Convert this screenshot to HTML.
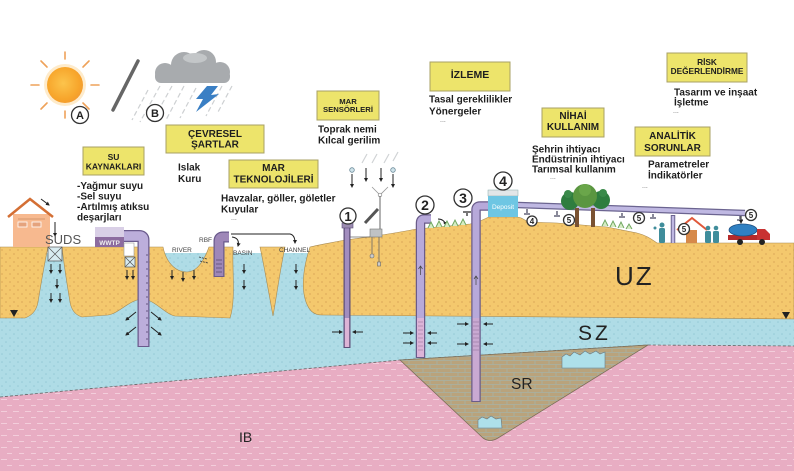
<!DOCTYPE html>
<html><head><meta charset="utf-8"><style>
html,body{margin:0;padding:0;background:#fff;}
svg{display:block;}
text{font-family:"Liberation Sans",Arial,sans-serif;}
.b{font-weight:bold;fill:#1e1e1e;}
.bx{fill:#ede46b;stroke:#a8a066;stroke-width:1;}
.lbl{font-weight:bold;fill:#1e1e1e;text-anchor:middle;}
.dots{fill:#666;font-size:7px;}
.arr{stroke:#222;stroke-width:1;fill:none;}
.cn{fill:#fff;stroke:#333;stroke-width:1.3;}
.ct{font-weight:bold;fill:#222;text-anchor:middle;}
</style></head><body>
<svg width="794" height="471" viewBox="0 0 794 471" xmlns="http://www.w3.org/2000/svg">
<defs>
<pattern id="pUZ" width="8" height="8" patternUnits="userSpaceOnUse"><rect width="8" height="8" fill="#f4c86d"/><circle cx="2" cy="2" r="0.9" fill="#e0ad5c"/><circle cx="6" cy="6" r="0.9" fill="#e0ad5c"/></pattern>
<pattern id="pSZ" width="8" height="8" patternUnits="userSpaceOnUse"><rect width="8" height="8" fill="#afdce6"/><circle cx="2" cy="2" r="0.8" fill="#95c9d5"/><circle cx="6" cy="6" r="0.8" fill="#95c9d5"/></pattern>
<pattern id="pIB" width="12" height="12" patternUnits="userSpaceOnUse"><rect width="12" height="12" fill="#e8adc3"/><rect x="1" y="3" width="6" height="1" fill="#f3cddb"/><rect x="7" y="9" width="6" height="1" fill="#f3cddb"/></pattern>
<pattern id="pSR" width="14" height="8" patternUnits="userSpaceOnUse"><rect width="14" height="8" fill="#b9a37c"/><path d="M0,0.5 H14 M0,4.5 H14 M3,0.5 V4.5 M10,4.5 V8" stroke="#a7b2a5" stroke-width="0.8"/></pattern>
<radialGradient id="sun" cx="0.45" cy="0.45" r="0.6"><stop offset="0" stop-color="#fcc44c"/><stop offset="0.75" stop-color="#f7a52b"/><stop offset="1" stop-color="#f29a30"/></radialGradient>
<marker id="ah" markerWidth="4" markerHeight="4" refX="3" refY="2" orient="auto"><path d="M0,0 L4,2 L0,4 z" fill="#222"/></marker>
</defs>

<!-- layers -->
<rect x="0" y="300" width="794" height="171" fill="url(#pIB)"/>
<path d="M0,253 L794,253 L794,346 L648,345 L400,360 L0,397 Z" fill="url(#pSZ)"/>
<path d="M0,397 L400,360 L648,345 L794,346" fill="none" stroke="#666" stroke-width="0.8" stroke-dasharray="3,2"/>
<path d="M400,360 L648,345 L498,438 Q490,443 483,438 Z" fill="url(#pSR)" stroke="#7a6d58" stroke-width="0.8"/>
<path d="M562,368 L562,357 L566,354 L570,356 L574,352 L580,355 L585,351 L590,354 L596,351 L600,354 L605,352 L605,368 Z" fill="#aee0ea" stroke="#6a7a80" stroke-width="0.6"/>
<path d="M478,428 L478,420 L482,417 L487,419 L491,416 L496,419 L501,418 L502,428 Z" fill="#aee0ea" stroke="#6a7a80" stroke-width="0.6"/>

<!-- UZ pieces -->
<g fill="url(#pUZ)" stroke="#a88a52" stroke-width="0.6">
<path d="M0,247 L48,247 C44,265 40,290 38,302 Q36,314 25,318 L0,318 Z"/>
<path d="M62,247 L163,247 C166,262 175,272 187,272 C198,272 205,258 209,247 L233,247 C232,270 236,300 230,318 L175,316 C165,314 155,300 143,299 C130,299 120,313 108,315 L82,317 Q72,314 70,302 C68,290 64,265 62,247 Z"/>
<path d="M260,247 L285,247 C280,270 276,300 273,316 C270,300 265,270 260,247 Z"/>
<path d="M310,247 C305,262 300,285 306,302 C309,310 313,315 322,315 L794,319 L794,243 L657,243 C650,238 645,235 637,233 L607,227 L557,223 L528,222 C522,218 520,217 516,217 L489,217 C484,219 478,223 470,224 L417,229 C400,232 380,236 345,240 C330,243 318,245 310,247 Z"/>
</g>
<path d="M10,310 L18,310 L14,317 Z" fill="#222"/>
<path d="M782,312 L790,312 L786,319 Z" fill="#222"/>

<!-- layer labels -->
<text x="615" y="285" font-size="26" fill="#222" letter-spacing="2">UZ</text>
<text x="578" y="340" font-size="21" fill="#222" letter-spacing="3">SZ</text>
<text x="511" y="389" font-size="15.5" fill="#222">SR</text>
<text x="239" y="442" font-size="14" fill="#222">IB</text>

<!-- sun -->
<circle cx="65" cy="85" r="21" fill="#fde3b5" opacity="0.7"/>
<circle cx="65" cy="85" r="18" fill="url(#sun)"/>
<g stroke="#eea25a" stroke-width="1.6" stroke-linecap="round">
<line x1="65" y1="59" x2="65" y2="52"/><line x1="65" y1="111" x2="65" y2="118"/>
<line x1="39" y1="85" x2="31" y2="85"/><line x1="91" y1="85" x2="99" y2="85"/>
<line x1="47" y1="67" x2="41" y2="61"/><line x1="83" y1="67" x2="89" y2="61"/>
<line x1="47" y1="103" x2="41" y2="109"/><line x1="83" y1="103" x2="89" y2="109"/>
</g>
<circle class="cn" cx="80" cy="115" r="8.5"/><text class="ct" x="80" y="119" font-size="11">A</text>
<line x1="138" y1="61" x2="113" y2="110" stroke="#666" stroke-width="3.5" stroke-linecap="round"/>

<!-- rain -->
<g stroke="#cdd0d2" stroke-width="1.2" stroke-dasharray="5,3">
<line x1="160" y1="86" x2="140" y2="122"/><line x1="172" y1="86" x2="152" y2="122"/>
<line x1="184" y1="86" x2="166" y2="120"/><line x1="196" y1="88" x2="180" y2="118"/>
<line x1="222" y1="86" x2="206" y2="116"/><line x1="232" y1="86" x2="218" y2="112"/>
<line x1="148" y1="90" x2="132" y2="120"/>
</g>
<!-- cloud -->
<g fill="#a8abae">
<circle cx="165" cy="73" r="10"/><circle cx="184" cy="65" r="13"/><circle cx="204" cy="62" r="12"/><circle cx="220" cy="72" r="10"/>
<rect x="155" y="70" width="75" height="13" rx="6"/>
</g>
<ellipse cx="195" cy="58" rx="12" ry="5" fill="#c3c6c8"/>
<path d="M207,86 L218,86 L211,95 L219,94 L196,112 L203,99 L196,99 Z" fill="#3a7fc4"/>
<circle class="cn" cx="155" cy="113" r="8.5"/><text class="ct" x="155" y="117" font-size="11">B</text>

<!-- label boxes -->
<rect class="bx" x="83" y="147" width="61" height="28"/>
<text class="lbl" x="113.5" y="160" font-size="8.5">SU</text>
<text class="lbl" x="113.5" y="169.5" font-size="8.5">KAYNAKLARI</text>

<rect class="bx" x="166" y="125" width="98" height="28"/>
<text class="lbl" x="215" y="137" font-size="10">ÇEVRESEL</text>
<text class="lbl" x="215" y="147.5" font-size="10">ŞARTLAR</text>

<rect class="bx" x="229" y="160" width="89" height="28"/>
<text class="lbl" x="273.5" y="171" font-size="10">MAR</text>
<text class="lbl" x="273.5" y="182.5" font-size="10">TEKNOLOJİLERİ</text>

<rect class="bx" x="317" y="91" width="62" height="29"/>
<text class="lbl" x="348" y="104" font-size="7.7">MAR</text>
<text class="lbl" x="348" y="112" font-size="7.7">SENSÖRLERİ</text>

<rect class="bx" x="430" y="62" width="80" height="29"/>
<text class="lbl" x="470" y="78" font-size="10.5">İZLEME</text>

<rect class="bx" x="542" y="108" width="62" height="29"/>
<text class="lbl" x="573" y="119" font-size="10">NİHAİ</text>
<text class="lbl" x="573" y="130" font-size="10">KULLANIM</text>

<rect class="bx" x="635" y="127" width="75" height="29"/>
<text class="lbl" x="672.5" y="139" font-size="10">ANALİTİK</text>
<text class="lbl" x="672.5" y="151" font-size="10">SORUNLAR</text>

<rect class="bx" x="667" y="53" width="80" height="29"/>
<text class="lbl" x="707" y="65" font-size="8.3">RİSK</text>
<text class="lbl" x="707" y="74" font-size="8.3">DEĞERLENDİRME</text>

<!-- lists -->
<g class="b" font-size="10">
<text x="77" y="189">-Yağmur suyu</text>
<text x="77" y="199.5">-Sel suyu</text>
<text x="77" y="210">-Artılmış atıksu</text>
<text x="77" y="220.5">deşarjları</text>
<text x="178" y="170.5">Islak</text>
<text x="178" y="182">Kuru</text>
<text x="221" y="201.5">Havzalar, göller, göletler</text>
<text x="221" y="212.5">Kuyular</text>
<text x="318" y="132.5">Toprak nemi</text>
<text x="318" y="143.5">Kılcal gerilim</text>
<text x="429" y="102.5">Tasal gereklilikler</text>
<text x="429" y="114.5">Yönergeler</text>
<text x="532" y="152.5">Şehrin ihtiyacı</text>
<text x="532" y="162.5">Endüstrinin ihtiyacı</text>
<text x="532" y="172.5">Tarımsal kullanım</text>
<text x="648" y="167.5">Parametreler</text>
<text x="648" y="178.5">İndikatörler</text>
<text x="674" y="95.5">Tasarım ve inşaat</text>
<text x="674" y="105.5">İşletme</text>
</g>
<g class="dots">
<text x="231" y="220">...</text><text x="440" y="122">...</text><text x="550" y="179">...</text><text x="642" y="188">...</text><text x="673" y="113">...</text>
</g>

<!-- house -->
<rect x="13" y="214" width="37" height="33" fill="#f7b98f"/>
<polyline points="8,217 30,199 53,217" fill="none" stroke="#d46f34" stroke-width="2.5"/>
<line x1="18" y1="219" x2="45" y2="219" stroke="#c98b63" stroke-width="0.8"/>
<rect x="18" y="222" width="9" height="5" fill="#e5a37d" stroke="#fff" stroke-width="0.8"/>
<rect x="32" y="222" width="9" height="5" fill="#e5a37d" stroke="#fff" stroke-width="0.8"/>
<line x1="41" y1="199" x2="49" y2="205" class="arr" marker-end="url(#ah)"/>
<line x1="55" y1="222" x2="55" y2="236" class="arr" marker-end="url(#ah)"/>
<text x="45" y="244" font-size="13" fill="#555">SUDS</text>
<rect x="48" y="247" width="14" height="14" fill="#d8ecf1" stroke="#555" stroke-width="0.7"/>
<path d="M48,247 L62,261 M62,247 L48,261" stroke="#555" stroke-width="0.7"/>
<g class="arr">
<line x1="51" y1="264" x2="51" y2="273" marker-end="url(#ah)"/><line x1="60" y1="264" x2="60" y2="273" marker-end="url(#ah)"/>
<line x1="57" y1="279" x2="57" y2="288" marker-end="url(#ah)"/>
<line x1="51" y1="293" x2="51" y2="302" marker-end="url(#ah)"/><line x1="60" y1="293" x2="60" y2="302" marker-end="url(#ah)"/>
</g>

<!-- WWTP -->
<rect x="95" y="227" width="29" height="10" fill="#d9cfe6"/>
<rect x="95" y="237" width="29" height="10" fill="#8d6c9f"/>
<text x="109.5" y="245" font-size="6.5" font-weight="bold" fill="#eee" text-anchor="middle">WWTP</text>
<rect x="124" y="243" width="10" height="13" fill="#fff" stroke="#999" stroke-width="0.6"/>
<rect x="125" y="257" width="10" height="10" fill="#d8ecf1" stroke="#555" stroke-width="0.7"/>
<path d="M125,257 L135,267 M135,257 L125,267" stroke="#555" stroke-width="0.7"/>
<g class="arr"><line x1="127" y1="270" x2="127" y2="279" marker-end="url(#ah)"/><line x1="133" y1="270" x2="133" y2="279" marker-end="url(#ah)"/></g>
<path d="M124,236 L139,236 Q143.5,236 143.5,240 L143.5,347" fill="none" stroke="#6a5a8c" stroke-width="12"/>
<path d="M124,236 L139,236 Q143.5,236 143.5,240 L143.5,346" fill="none" stroke="#bcaedb" stroke-width="9.5"/>
<path d="M146,255 h2 M146,262 h2 M146,269 h2 M146,276 h2 M146,283 h2 M146,290 h2 M146,297 h2 M146,304 h2 M146,311 h2 M146,318 h2 M146,325 h2 M146,332 h2 M146,339 h2" stroke="#4a3d66" stroke-width="0.8"/>
<g class="arr">
<line x1="136" y1="312" x2="126" y2="320" marker-end="url(#ah)"/><line x1="136" y1="327" x2="126" y2="335" marker-end="url(#ah)"/>
<line x1="151" y1="312" x2="161" y2="320" marker-end="url(#ah)"/><line x1="151" y1="327" x2="161" y2="335" marker-end="url(#ah)"/>
</g>

<!-- river / RBF / basin / channel -->
<text x="172" y="252" font-size="6.5" fill="#444">RIVER</text>
<text x="199" y="242" font-size="6.5" fill="#444">RBF</text>
<text x="233" y="255" font-size="6.5" fill="#444">BASIN</text>
<text x="279" y="252" font-size="6.5" fill="#444">CHANNEL</text>
<g class="arr">
<line x1="172" y1="270" x2="172" y2="279" marker-end="url(#ah)"/><line x1="183" y1="272" x2="183" y2="281" marker-end="url(#ah)"/><line x1="194" y1="270" x2="194" y2="279" marker-end="url(#ah)"/>
<line x1="244" y1="264" x2="244" y2="273" marker-end="url(#ah)"/><line x1="244" y1="280" x2="244" y2="289" marker-end="url(#ah)"/>
<line x1="296" y1="264" x2="296" y2="273" marker-end="url(#ah)"/><line x1="296" y1="280" x2="296" y2="289" marker-end="url(#ah)"/>
</g>
<path d="M199,257 l8,2 M200,261 l8,2" stroke="#333" stroke-width="0.8" stroke-dasharray="2,1"/>
<path d="M219,277 L219,241 Q219,237 223,237 L229,237" fill="none" stroke="#6a5a8c" stroke-width="11"/>
<path d="M219,276 L219,241 Q219,237 223,237 L229,237" fill="none" stroke="#9e87b8" stroke-width="8.5"/>
<path d="M216,260 h6 M216,264 h6 M216,268 h6 M216,272 h6" stroke="#5a4a70" stroke-width="0.7"/>
<path d="M232,237 Q240,238 238,246" class="arr" marker-end="url(#ah)"/>
<path d="M231,234 L290,234 Q295,235 295,243" class="arr" marker-end="url(#ah)"/>

<!-- MAR sensors (well 1) -->
<g stroke="#d0d3d5" stroke-width="1.2">
<line x1="362" y1="163" x2="367" y2="154"/><line x1="372" y1="163" x2="377" y2="154"/><line x1="384" y1="163" x2="389" y2="154"/><line x1="393" y1="161" x2="398" y2="152"/>
</g>
<circle cx="352" cy="170" r="2.3" fill="#cfe3ea" stroke="#6c8a99" stroke-width="0.8"/>
<circle cx="393" cy="170" r="2.3" fill="#cfe3ea" stroke="#6c8a99" stroke-width="0.8"/>
<g class="arr">
<line x1="352" y1="174" x2="352" y2="187" marker-end="url(#ah)"/><line x1="366" y1="168" x2="366" y2="181" marker-end="url(#ah)"/>
<line x1="381" y1="168" x2="381" y2="181" marker-end="url(#ah)"/><line x1="393" y1="174" x2="393" y2="187" marker-end="url(#ah)"/>
</g>
<path d="M372,187 L380,195 L388,187" fill="none" stroke="#999" stroke-width="0.8"/>
<circle cx="380" cy="195" r="1.8" fill="#fff" stroke="#888" stroke-width="0.7"/>
<line x1="380" y1="196" x2="380" y2="230" stroke="#666" stroke-width="1"/>
<line x1="365" y1="223" x2="378" y2="209" stroke="#555" stroke-width="3"/>
<rect x="370" y="229" width="12" height="8" fill="#bfc2c4" stroke="#777" stroke-width="0.6"/>
<path d="M372,237 V254 M379,237 V262" stroke="#666" stroke-width="0.8"/>
<circle cx="372" cy="256" r="2" fill="#ccc" stroke="#666" stroke-width="0.6"/>
<rect x="377.5" y="262" width="3" height="4" fill="#ccc" stroke="#666" stroke-width="0.6"/>
<line x1="350" y1="237" x2="370" y2="237" stroke="#666" stroke-width="0.8"/>
<line x1="347" y1="228" x2="347" y2="348" stroke="#5d4e78" stroke-width="7"/>
<line x1="347" y1="228" x2="347" y2="318" stroke="#a28dbf" stroke-width="4.5"/>
<line x1="347" y1="318" x2="347" y2="347" stroke="#ddb4d6" stroke-width="4.5"/>
<rect x="342" y="223" width="11" height="5" fill="#9b8bb0" stroke="#5d4e78" stroke-width="0.6"/>
<circle class="cn" cx="348" cy="216" r="8"/><text class="ct" x="348" y="221" font-size="13">1</text>
<g class="arr">
<line x1="332" y1="332" x2="342" y2="332" marker-end="url(#ah)"/><line x1="363" y1="332" x2="353" y2="332" marker-end="url(#ah)"/>
</g>

<!-- well 2 -->
<path d="M431,219 L424,219 Q420.5,219 420.5,223 L420.5,358" fill="none" stroke="#6a5c8a" stroke-width="9.5"/>
<path d="M431,219 L424,219 Q420.5,219 420.5,223 L420.5,318" fill="none" stroke="#b7a9da" stroke-width="7"/>
<line x1="420.5" y1="318" x2="420.5" y2="357" stroke="#dcb4d8" stroke-width="7"/>
<path d="M418,322 h5 M418,326 h5 M418,330 h5 M418,334 h5 M418,338 h5 M418,342 h5 M418,346 h5 M418,350 h5" stroke="#8a6a90" stroke-width="0.6"/>
<path d="M420.5,275 V266 M418.5,269 L420.5,266 L422.5,269" fill="none" stroke="#444" stroke-width="0.7"/>
<circle class="cn" cx="425" cy="205" r="9"/><text class="ct" x="425" y="210" font-size="14">2</text>
<path d="M438,219 Q444,219 446,225" class="arr" marker-end="url(#ah)"/>
<g class="arr">
<line x1="403" y1="333" x2="413" y2="333" marker-end="url(#ah)"/><line x1="437" y1="333" x2="428" y2="333" marker-end="url(#ah)"/>
<line x1="403" y1="343" x2="413" y2="343" marker-end="url(#ah)"/><line x1="437" y1="343" x2="428" y2="343" marker-end="url(#ah)"/>
</g>
<!-- grass -->
<g stroke="#6aa35a" stroke-width="0.9" fill="#d6ecc4">
<path d="M428,228 l3,-6 l3,6 M436,227 l3,-6 l3,6 M444,227 l3,-6 l3,6 M452,226 l3,-6 l3,6 M460,225 l3,-6 l3,6"/>
<path d="M602,226 l3,-6 l3,6 M610,227 l3,-6 l3,6 M618,228 l3,-6 l3,6 M626,229 l3,-5 l3,5"/>
</g>

<!-- well 3 -->
<path d="M476,402 L476,210 Q476,206 480,206 L490,206" fill="none" stroke="#6a5c8a" stroke-width="9.5"/>
<path d="M476,318 L476,210 Q476,206 480,206 L490,206" fill="none" stroke="#b7a9da" stroke-width="7"/>
<line x1="476" y1="318" x2="476" y2="401" stroke="#c9a9d2" stroke-width="7"/>
<path d="M473,322 h6 M473,326 h6 M473,330 h6 M473,334 h6 M473,338 h6 M473,342 h6 M473,346 h6 M473,350 h6" stroke="#8a6a90" stroke-width="0.6"/>
<path d="M476,285 V276 M474,279 L476,276 L478,279" fill="none" stroke="#444" stroke-width="0.7"/>
<path d="M463,212 h8 M467,212 v4" stroke="#777" stroke-width="2"/>
<circle class="cn" cx="463" cy="198" r="9"/><text class="ct" x="463" y="203" font-size="14">3</text>
<g class="arr">
<line x1="457" y1="324" x2="468" y2="324" marker-end="url(#ah)"/><line x1="493" y1="324" x2="484" y2="324" marker-end="url(#ah)"/>
<line x1="457" y1="344" x2="468" y2="344" marker-end="url(#ah)"/><line x1="493" y1="344" x2="484" y2="344" marker-end="url(#ah)"/>
</g>

<!-- deposit + pipe -->
<path d="M518,205 L745,213" stroke="#6b6490" stroke-width="6.5"/>
<path d="M518,205 L745,213" stroke="#bfb8e2" stroke-width="4"/>
<rect x="488" y="190" width="30" height="6" fill="#e2e6e8" stroke="#8aa" stroke-width="0.5"/>
<rect x="488" y="196" width="30" height="21" fill="#6ec6e3"/>
<text x="503" y="209" font-size="6.5" fill="#fff" text-anchor="middle">Deposit</text>
<circle class="cn" cx="503" cy="181" r="9"/><text class="ct" x="503" y="186" font-size="14">4</text>
<g stroke="#8a8a9a" stroke-width="2">
<path d="M527,209 v5 M524,214 h6"/><path d="M557,211 v5 M554,216 h6"/><path d="M622,213 v4 M619,217 h6"/><path d="M653,214 v4 M650,218 h6"/><path d="M740,216 v4 M737,220 h6"/>
</g>
<path d="M673,215 L673,243" stroke="#6b6490" stroke-width="4.5"/>
<path d="M673,216 L673,243" stroke="#bfb8e2" stroke-width="2.5"/>
<!-- trees -->
<rect x="575" y="208" width="4" height="19" fill="#7a5232"/>
<rect x="591" y="208" width="4" height="19" fill="#7a5232"/>
<circle cx="570" cy="201" r="9" fill="#2e7d3f"/>
<circle cx="601" cy="200" r="9" fill="#2e7d3f"/>
<circle cx="585" cy="196" r="12" fill="#5a9640"/>
<circle cx="585" cy="190" r="6" fill="#6aa64a"/>
<circle cx="568" cy="194" r="4" fill="#3a8a4a"/>
<circle cx="603" cy="193" r="4" fill="#3a8a4a"/>
<!-- house 2 -->
<rect x="686" y="230" width="11" height="13" fill="#d6894a"/>
<polyline points="677,230 692,218 707,230" fill="none" stroke="#e0583a" stroke-width="2"/>
<!-- people -->
<g fill="#3f8d9b">
<circle cx="662" cy="225" r="2.5"/><rect x="659" y="228" width="6" height="15" rx="1.5"/>
<circle cx="708" cy="228" r="2.3"/><rect x="705" y="231" width="6" height="12" rx="1.5"/>
<circle cx="716" cy="228" r="2.3"/><rect x="713" y="231" width="6" height="12" rx="1.5"/>
<circle cx="655" cy="228" r="1.5"/>
</g>
<!-- truck -->
<rect x="728" y="235" width="42" height="5" fill="#b52a2a"/>
<ellipse cx="743" cy="230" rx="14" ry="6" fill="#2f80c2" stroke="#1d4f80" stroke-width="0.8"/>
<path d="M757,240 L757,229 L765,229 L770,234 L770,240 Z" fill="#c83232"/>
<circle cx="740" cy="242" r="3" fill="#222"/><circle cx="762" cy="242" r="3" fill="#222"/>
<line x1="741" y1="216" x2="741" y2="223" class="arr" marker-end="url(#ah)"/>
<!-- small number circles -->
<circle class="cn" cx="532" cy="221" r="5" stroke-width="0.9"/><text class="ct" x="532" y="224" font-size="8">4</text>
<circle class="cn" cx="569" cy="220" r="5.5" stroke-width="0.9"/><text class="ct" x="569" y="223" font-size="8">5</text>
<circle class="cn" cx="639" cy="218" r="5.5" stroke-width="0.9"/><text class="ct" x="639" y="221" font-size="8">5</text>
<circle class="cn" cx="684" cy="229" r="5.5" stroke-width="0.9"/><text class="ct" x="684" y="232" font-size="8">5</text>
<circle class="cn" cx="751" cy="215" r="5.5" stroke-width="0.9"/><text class="ct" x="751" y="218" font-size="8">5</text>
</svg>
</body></html>
